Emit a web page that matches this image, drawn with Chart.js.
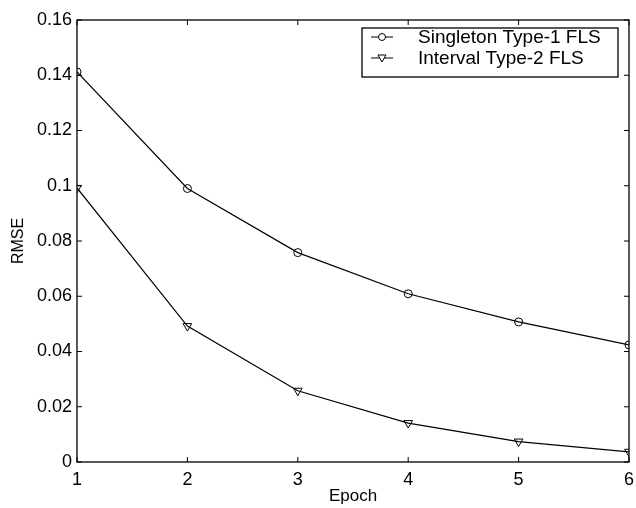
<!DOCTYPE html>
<html>
<head>
<meta charset="utf-8">
<script src="https://cdn.jsdelivr.net/npm/chart.js@4.4.1/dist/chart.umd.min.js"></script>
<style>
  html, body { margin: 0; padding: 0; background: #fff; }
  #wrap { width: 636px; height: 508px; }
</style>
</head>
<body>
<div id="wrap"><canvas id="myChart" width="636" height="508"></canvas></div>
<script>
var epochs = [1, 2, 3, 4, 5, 6];
var singletonRmse = [0.1412, 0.0990, 0.0758, 0.0609, 0.0507, 0.0424];
var intervalRmse = [0.0992, 0.0492, 0.0258, 0.0141, 0.0074, 0.0037];
var seriesNames = ["Singleton Type-1 FLS", "Interval Type-2 FLS"];
var xTicks = [1, 2, 3, 4, 5, 6];
var yTicks = [0, 0.02, 0.04, 0.06, 0.08, 0.1, 0.12, 0.14, 0.16];

var fontFamily = "'Liberation Sans', Arial, Helvetica, sans-serif";

function toPoints(xs, ys) {
    var pts = [];
    for (let i = 0; i < xs.length; i++) {
        pts.push({ x: xs[i], y: ys[i] });
    }
    return pts;
}

// box around plot, inward ticks on all four sides, and the legend box
var matlabFrame = {
    id: "matlabFrame",
    afterDraw(chart) {
        var ctx = chart.ctx;
        var a = chart.chartArea;
        var xs = chart.scales.x;
        var ys = chart.scales.y;
        var tl = 5;
        ctx.save();
        ctx.strokeStyle = "#000";
        ctx.lineWidth = 1.3;
        ctx.strokeRect(a.left, a.top, a.right - a.left, a.bottom - a.top);
        ctx.lineWidth = 1;
        ctx.beginPath();
        xTicks.forEach((v) => {
            var px = xs.getPixelForValue(v);
            ctx.moveTo(px, a.bottom);
            ctx.lineTo(px, a.bottom - tl);
            ctx.moveTo(px, a.top);
            ctx.lineTo(px, a.top + tl);
        });
        yTicks.forEach((v) => {
            var py = ys.getPixelForValue(v);
            ctx.moveTo(a.left, py);
            ctx.lineTo(a.left + tl, py);
            ctx.moveTo(a.right, py);
            ctx.lineTo(a.right - tl, py);
        });
        ctx.stroke();

        // legend
        var bx = 362, by = 28, bw = 256, bh = 49;
        ctx.fillStyle = "#fff";
        ctx.fillRect(bx, by, bw, bh);
        ctx.lineWidth = 1.3;
        ctx.strokeRect(bx, by, bw, bh);
        ctx.font = "19px " + fontFamily;
        ctx.textBaseline = "middle";
        ctx.textAlign = "left";
        chart.data.datasets.forEach((ds, i) => {
            var ly = by + 9 + i * 21;
            ctx.strokeStyle = "#000";
            ctx.lineWidth = 1;
            ctx.beginPath();
            ctx.moveTo(bx + 9, ly);
            ctx.lineTo(bx + 31, ly);
            ctx.stroke();
            var mx = bx + 20;
            ctx.beginPath();
            if (ds.pointStyle == "circle") {
                ctx.arc(mx, ly, 3.5, 0, Math.PI * 2);
            } else {
                ctx.moveTo(mx - 4, ly - 3);
                ctx.lineTo(mx + 4, ly - 3);
                ctx.lineTo(mx, ly + 4);
                ctx.closePath();
            }
            ctx.fillStyle = "#fff";
            ctx.fill();
            ctx.stroke();
            ctx.fillStyle = "#000";
            ctx.fillText(ds.label, bx + 56, ly + 1);
        });
        ctx.restore();
    },
};

var ctx = document.getElementById("myChart");
var myChart = new Chart(ctx, {
    type: "line",
    data: {
        datasets: [
            {
                label: seriesNames[0],
                data: toPoints(epochs, singletonRmse),
                borderColor: "#000",
                borderWidth: 1.2,
                backgroundColor: "#fff",
                pointStyle: "circle",
                pointRadius: 4,
                pointBorderWidth: 1,
                pointBorderColor: "#000",
                pointBackgroundColor: "rgba(255,255,255,0)",
                tension: 0,
            },
            {
                label: seriesNames[1],
                data: toPoints(epochs, intervalRmse),
                borderColor: "#000",
                borderWidth: 1.2,
                backgroundColor: "#fff",
                pointStyle: "triangle",
                pointRotation: 180,
                pointRadius: 5,
                pointBorderWidth: 1,
                pointBorderColor: "#000",
                pointBackgroundColor: "rgba(255,255,255,0)",
                tension: 0,
            },
        ],
    },
    options: {
        responsive: false,
        animation: false,
        layout: {
            padding: { top: 20, right: 7, left: 0, bottom: 0 },
        },
        plugins: {
            legend: { display: false },
            tooltip: { enabled: false },
        },
        scales: {
            x: {
                type: "linear",
                min: 1,
                max: 6,
                afterFit: (scale) => {
                    scale.height = 46;
                    scale.paddingLeft = 0;
                    scale.paddingRight = 0;
                },
                afterBuildTicks: (scale) => {
                    scale.ticks = xTicks.map((v) => ({ value: v }));
                },
                grid: { display: false, drawTicks: false },
                border: { display: false },
                ticks: {
                    color: "#000",
                    padding: 7,
                    font: { family: fontFamily, size: 18 },
                    maxRotation: 0,
                },
                title: {
                    display: true,
                    text: "Epoch",
                    color: "#000",
                    font: { family: fontFamily, size: 17 },
                    padding: { top: 0, bottom: 1 },
                },
            },
            y: {
                type: "linear",
                min: 0,
                max: 0.16,
                afterFit: (scale) => {
                    scale.width = 77;
                    scale.paddingTop = 0;
                    scale.paddingBottom = 0;
                },
                afterBuildTicks: (scale) => {
                    scale.ticks = yTicks.map((v) => ({ value: v }));
                },
                grid: { display: false, drawTicks: false },
                border: { display: false },
                ticks: {
                    color: "#000",
                    padding: 5,
                    font: { family: fontFamily, size: 18 },
                    callback: (v) => String(Math.round(v * 100) / 100),
                },
                title: {
                    display: true,
                    text: "RMSE",
                    color: "#000",
                    font: { family: fontFamily, size: 16 },
                    padding: { top: 9, bottom: 0 },
                },
            },
        },
    },
    plugins: [matlabFrame],
});
</script>
</body>
</html>
